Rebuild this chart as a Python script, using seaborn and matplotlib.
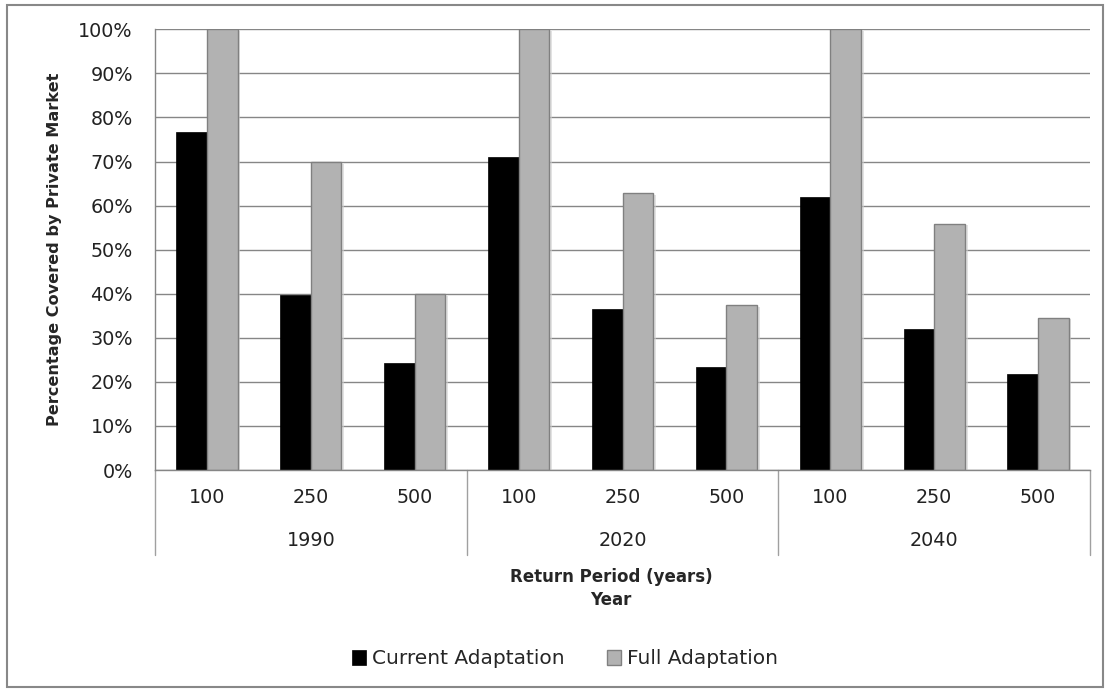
import matplotlib
matplotlib.use("Agg")
import matplotlib.pyplot as plt
import matplotlib.patches as mpatches
import matplotlib.patheffects as pe
import matplotlib.transforms as mtransforms
from matplotlib.ticker import PercentFormatter, MultipleLocator
import seaborn as sns
import pandas as pd

# ---- data ----
years = ["1990", "2020", "2040"]
return_periods = ["100", "250", "500"]
series = ["Current Adaptation", "Full Adaptation"]
current_adaptation = [0.768, 0.398, 0.242, 0.710, 0.365, 0.234, 0.619, 0.320, 0.217]
full_adaptation = [1.000, 0.698, 0.399, 1.000, 0.628, 0.374, 1.000, 0.558, 0.346]
colors = ["#000000", "#b2b2b2"]

cats = [f"{y}-{rp}" for y in years for rp in return_periods]
df = pd.DataFrame({
    "cat": cats * 2,
    "val": current_adaptation + full_adaptation,
    "series": [series[0]] * len(cats) + [series[1]] * len(cats),
})

sns.set_theme(style="white")
plt.rcParams["font.family"] = ["DejaVu Sans"]

W, H = 1111, 693
fig = plt.figure(figsize=(W / 100, H / 100), dpi=100)
ax = fig.add_axes([155 / W, 1 - 470 / H, (1090 - 155) / W, (470 - 29.3) / H])

sns.barplot(data=df, x="cat", y="val", hue="series", order=cats, hue_order=series,
            palette=colors, width=0.59, gap=0, saturation=1, legend=False,
            edgecolor="none", ax=ax)

shadow = [pe.SimplePatchShadow(offset=(2, -1), shadow_rgbFace="#d0d0d0", alpha=0.6),
          pe.Normal()]
for p in ax.patches:
    fc = p.get_facecolor()
    if fc[0] > 0.5:
        p.set_edgecolor("#808080")
        p.set_linewidth(1.0)
    else:
        p.set_edgecolor("#000000")
        p.set_linewidth(0.5)
    p.set_path_effects(shadow)

ax.set_ylim(0, 1)
ax.set_xlim(-0.5, len(cats) - 0.5)
ax.yaxis.set_major_locator(MultipleLocator(0.1))
ax.yaxis.set_major_formatter(PercentFormatter(1.0, decimals=0))
ax.grid(axis="y", color="#868686", linewidth=1.0)
ax.grid(axis="x", visible=False)
ax.set_axisbelow(True)

for s in ["top", "right"]:
    ax.spines[s].set_visible(False)
ax.spines["left"].set_color("#868686")
ax.spines["bottom"].set_color("#868686")
ax.spines["left"].set_linewidth(1.0)
ax.spines["bottom"].set_linewidth(1.0)

TFS = 13.8
ax.tick_params(axis="y", length=0, pad=16, labelsize=TFS, labelcolor="#222222")
ax.set_xticks(range(len(cats)))
ax.set_xticklabels(return_periods * len(years))
ax.tick_params(axis="x", length=0, pad=13, labelsize=TFS, labelcolor="#222222")
ax.set_xlabel("")
ax.set_ylabel("Percentage Covered by Private Market", fontsize=11.6, fontweight="bold",
              labelpad=12)

# group labels and separators
trans = mtransforms.blended_transform_factory(ax.transData, ax.transAxes)
sep_bottom = -(555 - 470) / (470 - 29.3)
year_y = -(541 - 470) / (470 - 29.3)
for i, y in enumerate(years):
    ax.text(i * 3 + 1, year_y, y, transform=trans, ha="center", va="center",
            fontsize=TFS, color="#222222")
for xs in [-0.5, 2.5, 5.5, 8.5]:
    ax.plot([xs, xs], [0, sep_bottom], transform=trans, color="#a0a0a0",
            linewidth=1.0, clip_on=False)

fig.text(611 / W, 1 - 577 / H, "Return Period (years)", ha="center", va="center",
         fontsize=12, fontweight="bold")
fig.text(611 / W, 1 - 600 / H, "Year", ha="center", va="center",
         fontsize=12, fontweight="bold")

handles = [mpatches.Patch(facecolor=colors[0], edgecolor="#000000", linewidth=0.5),
           mpatches.Patch(facecolor=colors[1], edgecolor="#808080", linewidth=1.0)]
fig.legend(handles, series, loc="center", bbox_to_anchor=(565 / W, 1 - 659 / H),
           ncol=2, frameon=False, fontsize=14.5, handlelength=0.7, handleheight=0.7,
           handletextpad=0.3, columnspacing=2.1)

fig.patches.append(mpatches.Rectangle((7 / W, 1 - 687 / H), (1103 - 7) / W, (687 - 5) / H,
                                      transform=fig.transFigure, fill=False,
                                      edgecolor="#888888", linewidth=1.5))

fig.savefig("out.png", dpi=100)
